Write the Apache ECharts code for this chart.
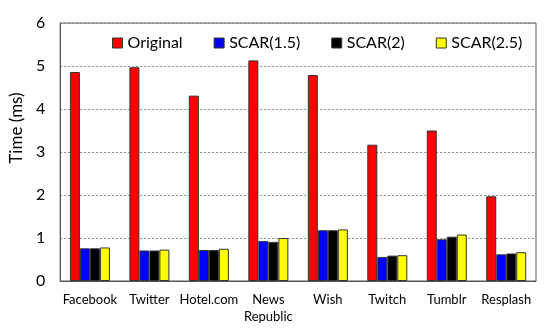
<!DOCTYPE html>
<html><head><meta charset="utf-8">
<script src="https://cdn.jsdelivr.net/npm/echarts@6/dist/echarts.min.js"></script>
<style>html,body{margin:0;padding:0;background:#fff}#c{width:550px;height:332px}</style>
</head><body><div id="c"></div>
<script>
const categories = ['Facebook','Twitter','Hotel.com','News\nRepublic','Wish','Twitch','Tumblr','Resplash'];
const original = [4.86, 4.97, 4.31, 5.13, 4.79, 3.17, 3.50, 1.97];
const scar15 = [0.76, 0.71, 0.72, 0.93, 1.18, 0.56, 0.97, 0.62];
const scar2 = [0.76, 0.71, 0.72, 0.91, 1.18, 0.59, 1.03, 0.64];
const scar25 = [0.78, 0.73, 0.75, 1.00, 1.20, 0.60, 1.08, 0.67];
const seriesNames = ['Original','SCAR(1.5)','SCAR(2)','SCAR(2.5)'];
const colors = ['#ff0000','#0000ff','#000000','#ffff00'];
const data = [original, scar15, scar2, scar25];
const font = 'Lato, "Liberation Sans", sans-serif';
const chart = echarts.init(document.getElementById('c'));
chart.setOption({
  animation: false,
  textStyle: {fontFamily: font},
  grid: {left: 54, right: 14, top: 23, bottom: 51, show: true, borderColor: '#555', borderWidth: 1},
  legend: {
    top: 30, left: 107, itemWidth: 10, itemHeight: 10, itemGap: 31,
    textStyle: {fontSize: 16, color: '#000', fontFamily: font},
    data: seriesNames.map((n,i)=>({name:n, icon:'rect', itemStyle:{borderColor:'#333', borderWidth:1}}))
  },
  xAxis: {
    type: 'category', data: categories,
    axisLine: {lineStyle: {color: '#555'}},
    axisTick: {show: false},
    axisLabel: {fontSize: 13, color: '#000', margin: 10, lineHeight: 17, interval: 0}
  },
  yAxis: {
    type: 'value', min: 0, max: 6, interval: 1,
    name: 'Time (ms)', nameLocation: 'middle', nameGap: 28, nameRotate: 90,
    nameTextStyle: {fontSize: 17, color: '#000', padding: [0, 0, 0, 48]},
    axisLine: {show: true, lineStyle: {color: '#555'}},
    axisTick: {show: false},
    axisLabel: {fontSize: 16, color: '#000', margin: 15},
    splitLine: {lineStyle: {type: [2,2], color: '#888'}}
  },
  series: data.map((d,i)=>({
    name: seriesNames[i], type: 'bar', data: d, barWidth: 10, barGap: '0%',
    itemStyle: {color: colors[i], borderColor: '#333', borderWidth: 1}
  }))
});
</script></body></html>
